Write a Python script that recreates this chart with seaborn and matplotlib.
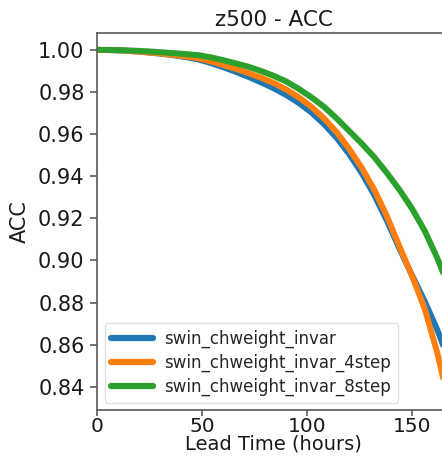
import numpy as np
import pandas as pd
import matplotlib
matplotlib.use("Agg")
import matplotlib.pyplot as plt
import seaborn as sns

# ---- data ----
lead_time = [0, 6, 12, 18, 24, 30, 36, 42, 48, 54, 60, 66, 72, 78, 84, 90, 96,
             102, 108, 114, 120, 126, 132, 138, 144, 150, 156, 162, 168]

acc_invar = [1.0000, 0.9999, 0.9997, 0.9993, 0.9988, 0.9982, 0.9975, 0.9966,
             0.9955, 0.9938, 0.9918, 0.9896, 0.9872, 0.9846, 0.9818, 0.9786,
             0.9748, 0.9703, 0.9648, 0.9583, 0.9505, 0.9415, 0.9310, 0.9188,
             0.9055, 0.8928, 0.8805, 0.8670, 0.8510]

acc_invar_4step = [1.0000, 0.9999, 0.9997, 0.9993, 0.9988, 0.9983, 0.9977, 0.9969,
                   0.9960, 0.9946, 0.9928, 0.9910, 0.9890, 0.9868, 0.9843, 0.9812,
                   0.9775, 0.9730, 0.9675, 0.9610, 0.9530, 0.9440, 0.9335, 0.9210,
                   0.9065, 0.8925, 0.8770, 0.8560, 0.8300]

acc_invar_8step = [1.0000, 0.99995, 0.9998, 0.9996, 0.9993, 0.9989, 0.9985, 0.9980,
                   0.9975, 0.9965, 0.9951, 0.9936, 0.9920, 0.9900, 0.9877, 0.9850,
                   0.9815, 0.9775, 0.9730, 0.9675, 0.9615, 0.9555, 0.9490, 0.9415,
                   0.9335, 0.9245, 0.9140, 0.9010, 0.8860]

series_names = ["swin_chweight_invar", "swin_chweight_invar_4step",
                "swin_chweight_invar_8step"]
series_values = [acc_invar, acc_invar_4step, acc_invar_8step]
colors = ["#1f77b4", "#ff7f0e", "#2ca02c"]

xticks = [0, 50, 100, 150]
yticks = [0.84, 0.86, 0.88, 0.90, 0.92, 0.94, 0.96, 0.98, 1.00]

df = pd.concat(
    [pd.DataFrame({"Lead Time (hours)": lead_time, "ACC": vals, "model": name})
     for name, vals in zip(series_names, series_values)],
    ignore_index=True)

# ---- style ----
sns.set_theme(style="ticks")
plt.rcParams["font.family"] = ["DejaVu Sans"]

fig = plt.figure(figsize=(4.42, 4.57), dpi=100)
ax_h_px = 377
ax = fig.add_axes([97 / 442, 47 / 457, 353 / 442, ax_h_px / 457])

sns.lineplot(data=df, x="Lead Time (hours)", y="ACC", hue="model",
             palette=colors, linewidth=4.3, ax=ax, legend=True)

ax.set_xlim(0, 168)
ax.set_ylim(0.829, 1.008)
ax.set_xticks(xticks)
ax.set_yticks(yticks)
ax.yaxis.set_major_formatter(matplotlib.ticker.FormatStrFormatter("%.2f"))

ax.tick_params(axis="both", labelsize=15, length=5, width=1.1, color="0.3",
               labelcolor="0.1", pad=4)
ax.tick_params(axis="x", labelsize=14.5, length=4, pad=1)
for sp in ax.spines.values():
    sp.set_visible(True)
    sp.set_color("0.35")
    sp.set_linewidth(1.2)

ax.set_xlabel("Lead Time (hours)", fontsize=14, color="0.1", va="top")
ax.xaxis.set_label_coords(0.5, -24 / ax_h_px)
ax.set_ylabel("ACC", fontsize=15, color="0.1", labelpad=6)
ax.set_title("z500 - ACC", fontsize=15.5, color="0.1", pad=5)

leg = ax.legend(loc="lower left", fontsize=12, frameon=True,
                borderaxespad=0.45, handlelength=2.5, handletextpad=0.7,
                labelspacing=0.35)
for line in leg.get_lines():
    line.set_linewidth(4.5)
leg.get_frame().set_edgecolor("0.85")

fig.savefig("out.png", dpi=100)
